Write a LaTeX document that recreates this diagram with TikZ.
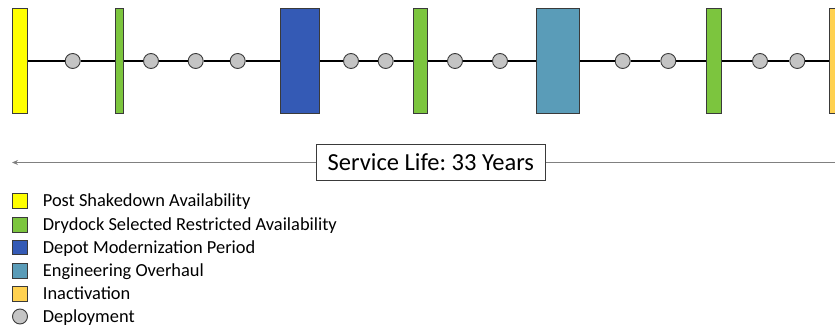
\documentclass[tikz,border=0pt]{standalone}
\usepackage{fontspec}
\setmainfont{Carlito}
\usepackage{tikz}
\usetikzlibrary{positioning, arrows.meta}
\frenchspacing

\definecolor{psacol}{HTML}{FFFF00}
\definecolor{dsracol}{HTML}{7CC53E}
\definecolor{dmpcol}{HTML}{345AB5}
\definecolor{eohcol}{HTML}{5A9CB8}
\definecolor{inactcol}{HTML}{FFD150}
\definecolor{depcol}{HTML}{C4C4C4}
\definecolor{edgecol}{HTML}{3A3A3A}

\begin{document}
\begin{tikzpicture}[x=1pt,y=-1pt,>=Stealth,
    bar/.style={draw=edgecol, line width=0.9pt, inner sep=0pt, minimum height=105pt},
    dep/.style={circle, draw=edgecol, fill=depcol, line width=0.9pt, inner sep=0pt, minimum size=15pt},
    key/.style={draw=edgecol, line width=0.9pt, inner sep=0pt, minimum size=14.5pt},
    keytext/.style={anchor=base west, inner sep=0pt, font=\fontsize{18.4}{22}\selectfont},
    link/.style={line width=1.5pt, black},
  ]

    \useasboundingbox (0,0) rectangle (835,328);

    % timeline
    \node[bar, fill=psacol, minimum width=15pt] (psa) at (19.8,61) {};
    \node[dep] (d1) at (72.7,61) {};
    \node[bar, fill=dsracol, minimum width=8.4pt] (dsra1) at (119.5,61) {};
    \node[dep] (d2) at (151,61) {};
    \node[dep] (d3) at (195.7,61) {};
    \node[dep] (d4) at (237.7,61) {};
    \node[bar, fill=dmpcol, minimum width=39.4pt] (dmp) at (300,61) {};
    \node[dep] (d5) at (351,61) {};
    \node[dep] (d6) at (385.7,61) {};
    \node[bar, fill=dsracol, minimum width=14.4pt] (dsra2) at (420.5,61) {};
    \node[dep] (d7) at (455,61) {};
    \node[dep] (d8) at (500,61) {};
    \node[bar, fill=eohcol, minimum width=43.4pt] (eoh) at (558,61) {};
    \node[dep] (d9) at (622.7,61) {};
    \node[dep] (d10) at (668.3,61) {};
    \node[bar, fill=dsracol, minimum width=14.6pt] (dsra3) at (714,61) {};
    \node[dep] (d11) at (760,61) {};
    \node[dep] (d12) at (797.3,61) {};
    \node[bar, fill=inactcol, minimum width=15pt] (inact) at (836.8,61) {};

    \draw[link] (psa) -- (d1);
    \draw[link] (d1) -- (dsra1);
    \draw[link] (dsra1) -- (d2);
    \draw[link] (d2) -- (d3);
    \draw[link] (d3) -- (d4);
    \draw[link] (d4) -- (dmp);
    \draw[link] (dmp) -- (d5);
    \draw[link] (d5) -- (d6);
    \draw[link] (d6) -- (dsra2);
    \draw[link] (dsra2) -- (d7);
    \draw[link] (d7) -- (d8);
    \draw[link] (d8) -- (eoh);
    \draw[link] (eoh) -- (d9);
    \draw[link] (d9) -- (d10);
    \draw[link] (d10) -- (dsra3);
    \draw[link] (dsra3) -- (d11);
    \draw[link] (d11) -- (d12);
    \draw[link] (d12) -- (inact);

    % service life
    \node[draw=edgecol, line width=0.9pt, minimum width=229.7pt, minimum height=36.7pt, inner sep=0pt,
          text height=15.8pt, text depth=0pt,
          font=\fontsize{24.5}{29}\selectfont] (life) at (430.8,162.5) {Service Life: 33 Years};
    \coordinate (lifeL) at (12,162.5);
    \coordinate (lifeR) at (835,162.5);
    \draw[->, gray, line width=1pt, >={Stealth[length=6pt,width=5pt]}] (life.west) -- (lifeL);
    \draw[-, gray, line width=1pt] (life.east) -- (lifeR);

    % legend
    \node[key, fill=psacol] (kpsa) at (20,201) {};
    \node[keytext] (tpsa) at (42.7,206.7) {Post Shakedown Availability};
    \node[key, fill=dsracol] (kdsra) at (20,225) {};
    \node[keytext] (tdsra) at (42.7,230.7) {Drydock Selected Restricted Availability};
    \node[key, fill=dmpcol] (kdmp) at (20,247.5) {};
    \node[keytext] (tdmp) at (42.7,253.2) {Depot Modernization Period};
    \node[key, fill=eohcol] (keoh) at (20,271) {};
    \node[keytext] (teoh) at (42.7,276.7) {Engineering Overhaul};
    \node[key, fill=inactcol] (kinact) at (20,294) {};
    \node[keytext] (tinact) at (42.7,299.7) {Inactivation};
    \node[dep] (kdep) at (20,316.5) {};
    \node[keytext] (tdep) at (42.7,322.2) {Deployment};

\end{tikzpicture}
\end{document}
